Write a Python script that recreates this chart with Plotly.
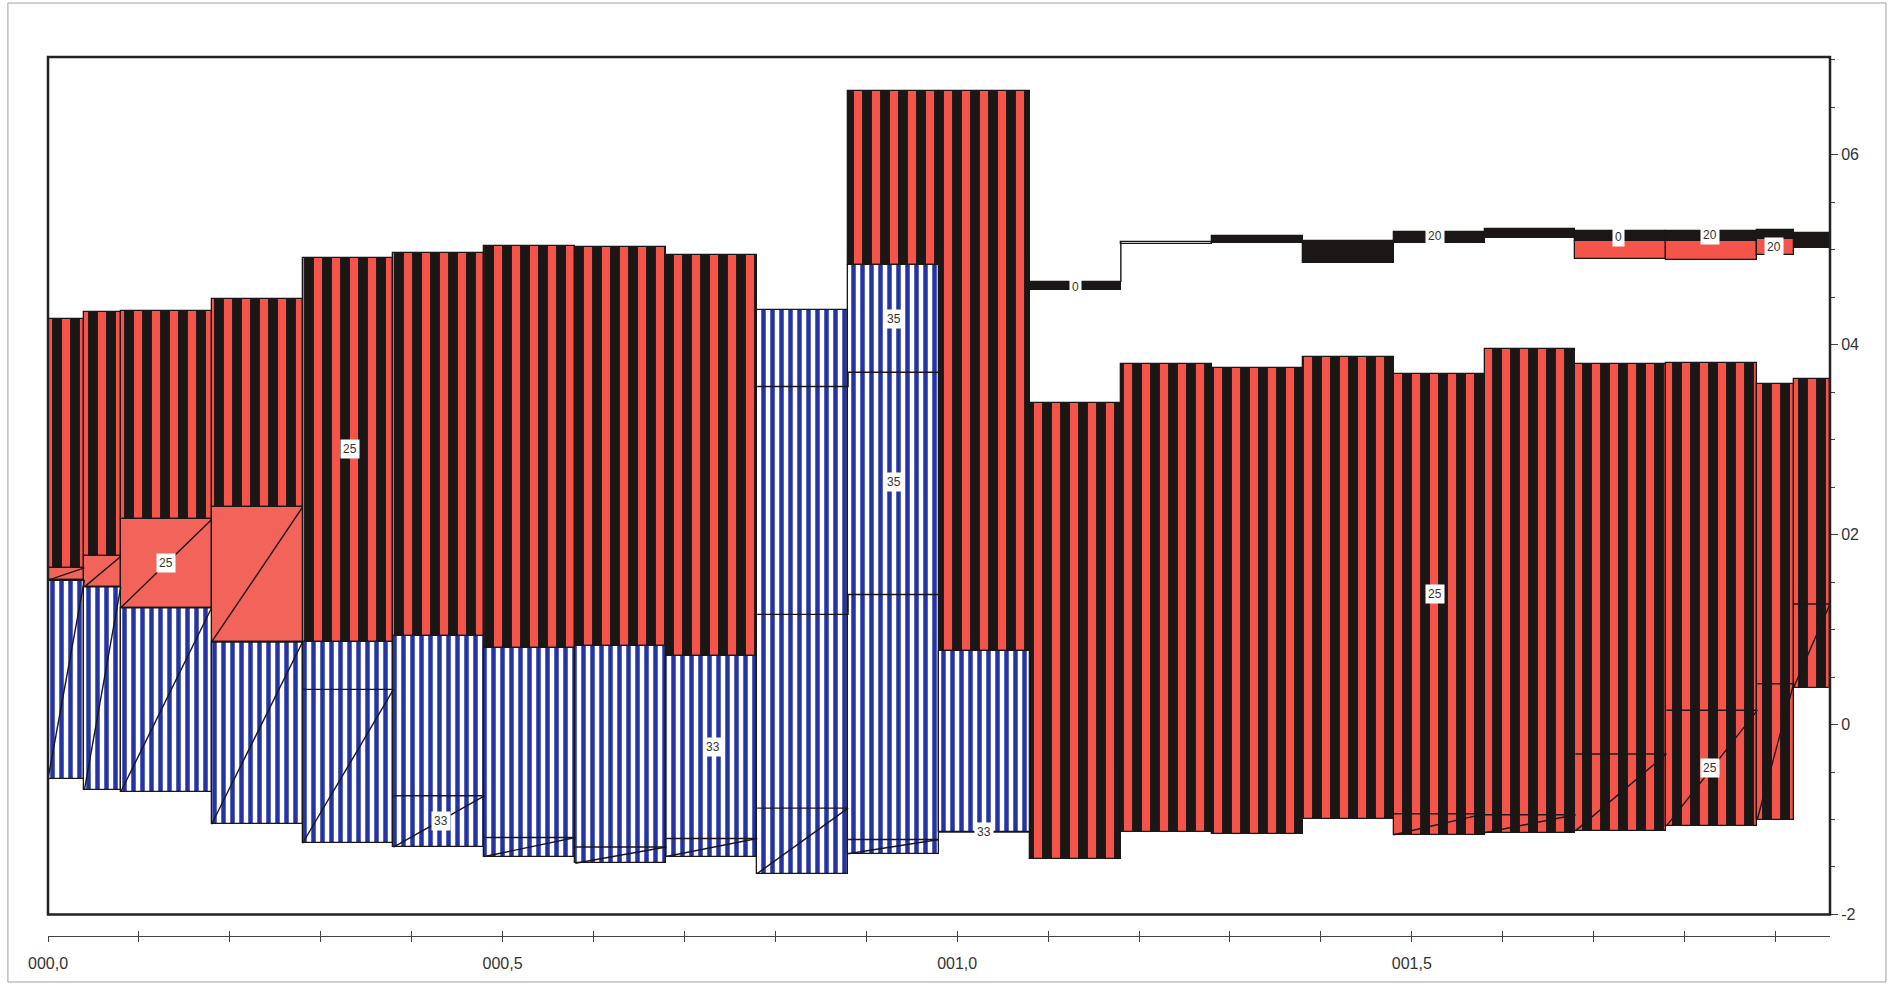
import plotly.graph_objects as go

# ---------------- data ----------------
EDGES = [0.00, 0.04, 0.08, 0.18, 0.28, 0.38, 0.48, 0.58, 0.68, 0.78, 0.88,
         0.98, 1.08, 1.18, 1.28, 1.38, 1.48, 1.58, 1.68, 1.78, 1.88, 1.92, 1.96]

# layer "25" (red / black striped)
RED_TOP = [4.27, 4.34, 4.36, 4.48, 4.91, 4.97, 5.04, 5.03, 4.95, None, 6.67,
           6.67, 3.39, 3.80, 3.75, 3.87, 3.69, 3.95, 3.80, 3.81, 3.59, 3.64]
RED_BOT = [1.65, 1.77, 2.16, 2.29, 0.87, 0.93, 0.81, 0.83, 0.72, None, 4.84,
           0.77, -1.42, -1.13, -1.15, -0.99, -1.16, -1.14, -1.12, -1.07, -1.00, 0.39]
RED_LINE = [None] * 16 + [-0.94, -0.95, -0.31, 0.15, 0.43, 1.27]

# layer "25" transition (solid red)
SOLID_BOT = [1.52, 1.45, 1.23, 0.87] + [None] * 18

# layers "33"/"35" (blue / white striped)
BLUE_TOP = [1.52, 1.45, 1.23, 0.87, 0.87, 0.93, 0.81, 0.83, 0.72, 4.37, 4.84,
            0.77] + [None] * 10
BLUE_BOT = [-0.57, -0.69, -0.71, -1.05, -1.25, -1.29, -1.39, -1.46, -1.39, -1.57,
            -1.36, -1.13] + [None] * 10
BLUE_LINE = [1.52, 1.45, 1.23, 0.87, 0.37, -0.75, -1.19, -1.29, -1.20, -0.88,
             -1.21, -1.13] + [None] * 10
BLUE_MID1 = [None] * 9 + [3.56, 3.71] + [None] * 11
BLUE_MID2 = [None] * 9 + [1.16, 1.37] + [None] * 11

# upper thin layer ("0" / "20")
UP_BLK_HI = [None] * 12 + [4.66, 5.08, 5.15, 5.09, 5.19, 5.22, 5.20, 5.20, 5.21, 5.18]
UP_BLK_LO = [None] * 12 + [4.58, 5.06, 5.07, 4.86, 5.07, 5.12, 5.09, 5.09, 5.11, 5.02]
UP_RED_HI = [None] * 18 + [5.09, 5.09, 5.11, None]
UP_RED_LO = [None] * 18 + [4.90, 4.89, 4.94, None]

# in-chart labels
LABEL_TEXT = ["25", "25", "33", "33", "35", "35", "33", "25", "25",
              "0", "20", "0", "20", "20"]
LABEL_X = [0.332, 0.130, 0.432, 0.731, 0.931, 0.931, 1.029, 1.526, 1.828,
           1.130, 1.525, 1.727, 1.828, 1.898]
LABEL_Y = [2.90, 1.70, -1.02, -0.235, 4.27, 2.55, -1.13, 1.38, -0.46,
           4.61, 5.15, 5.13, 5.16, 5.03]

# axes
X_TICKS = [round(0.1 * i, 1) for i in range(20)]
X_LABELS = {0.0: "000,0", 0.5: "000,5", 1.0: "001,0", 1.5: "001,5"}
Y_TICKS = [-2, 0, 2, 4, 6]
Y_LABELS = ["-2", "0", "02", "04", "06"]
Y_RANGE = [-2, 7.03]

# ---------------- styles ----------------
RED = "#F4544A"
RED_SOLID = "#F2635A"
BLACK = "#1b1717"
BLUE = "#2434A4"
OUTLINE = dict(color=BLACK, width=1.3)


def bar_trace(tops, bots, marker):
    xs, ws, bs, hs = [], [], [], []
    for i, (t, b) in enumerate(zip(tops, bots)):
        if t is None or b is None:
            continue
        x0, x1 = EDGES[i], EDGES[i + 1]
        xs.append((x0 + x1) / 2)
        ws.append(x1 - x0)
        bs.append(b)
        hs.append(t - b)
    return go.Bar(x=xs, y=hs, base=bs, width=ws, marker=marker,
                  showlegend=False, hoverinfo="skip")


def segments(starts, ends, with_horizontal=True):
    """diagonal from (x0, start) to (x1, end) and horizontal at end level"""
    xs, ys = [], []
    for i, (s, e) in enumerate(zip(starts, ends)):
        if s is None or e is None:
            continue
        x0, x1 = EDGES[i], EDGES[i + 1]
        xs += [x0, x1, None]
        ys += [s, e, None]
        if with_horizontal:
            xs += [x0, x1, None]
            ys += [e, e, None]
    return xs, ys


fig = go.Figure()

# red striped layer
fig.add_trace(bar_trace(RED_TOP, RED_BOT, dict(
    color=RED, line=OUTLINE,
    pattern=dict(shape="|", bgcolor=RED, fgcolor=BLACK, fgopacity=1,
                 size=18, solidity=0.55))))

# solid red transition layer
fig.add_trace(bar_trace(RED_BOT[:4] + [None] * 18, SOLID_BOT,
                        dict(color=RED_SOLID, line=OUTLINE)))

# blue striped layer
fig.add_trace(bar_trace(BLUE_TOP, BLUE_BOT, dict(
    color=BLUE, line=OUTLINE,
    pattern=dict(shape="|", bgcolor="white", fgcolor=BLUE, fgopacity=1,
                 size=9, solidity=0.5))))

# upper thin layer
blk_fill = []
for hi, lo in zip(UP_BLK_HI, UP_BLK_LO):
    if hi is not None:
        blk_fill.append("white" if hi - lo < 0.03 else BLACK)
fig.add_trace(bar_trace(UP_BLK_HI, UP_BLK_LO, dict(color=blk_fill, line=OUTLINE)))
fig.add_trace(bar_trace(UP_RED_HI, UP_RED_LO, dict(color=RED, line=OUTLINE)))

# internal boundary lines
lx, ly = [], []
a, b = segments(SOLID_BOT, RED_BOT[:4] + [None] * 18, with_horizontal=False)
lx += a; ly += b
a, b = segments(BLUE_BOT, BLUE_LINE)
lx += a; ly += b
a, b = segments(RED_BOT, RED_LINE)
lx += a; ly += b
for mid in (BLUE_MID1, BLUE_MID2):
    idx = [i for i, v in enumerate(mid) if v is not None]
    for k, i in enumerate(idx):
        lx += [EDGES[i], EDGES[i + 1]]
        ly += [mid[i], mid[i]]
        if k + 1 < len(idx):
            lx += [EDGES[i + 1]]
            ly += [mid[idx[k + 1]]]
    lx += [None]; ly += [None]
# step of the upper layer between the first two bins
lx += [EDGES[13], EDGES[13], None]
ly += [UP_BLK_HI[12], UP_BLK_HI[13], None]
fig.add_trace(go.Scatter(x=lx, y=ly, mode="lines", line=dict(color=BLACK, width=1.4),
                         showlegend=False, hoverinfo="skip", connectgaps=False))

# labels
for t, x, y in zip(LABEL_TEXT, LABEL_X, LABEL_Y):
    fig.add_annotation(x=x, y=y, text=t, showarrow=False, bgcolor="white",
                       borderpad=2, font=dict(size=12, color="#333",
                                              family="Liberation Sans, Arial"))

# plot frame and outer border
fig.add_shape(type="rect", xref="x domain", yref="y domain", x0=0, x1=1, y0=0, y1=1,
              line=dict(color="#222", width=2.5), layer="above")
fig.add_shape(type="rect", xref="paper", yref="paper", x0=-0.0225, x1=1.0314,
              y0=-0.0523, y1=1.0614, line=dict(color="#a0a0a0", width=1))

font = dict(family="Liberation Sans, Arial", size=16, color="#333")
fig.update_layout(
    width=1894, height=986,
    margin=dict(l=48, r=64, t=57, b=50),
    paper_bgcolor="white", plot_bgcolor="white",
    barmode="overlay", bargap=0,
    showlegend=False,
    xaxis=dict(range=[0, 1.96], anchor="free", position=0, showgrid=False,
               zeroline=False, showline=True, linecolor="#444", linewidth=1,
               ticks="outside", ticklen=5, tickcolor="#444",
               tickvals=X_TICKS, ticktext=[X_LABELS.get(v, "") for v in X_TICKS],
               tickfont=font, ticklabelstandoff=8, fixedrange=True),
    xaxis2=dict(range=[0, 1.96], overlaying="x", anchor="free", position=0,
                showgrid=False, zeroline=False, ticks="inside", ticklen=5,
                tickcolor="#444", tickvals=X_TICKS, showticklabels=False),
    yaxis=dict(range=Y_RANGE, domain=[0.0245, 1], side="right", showgrid=False,
               zeroline=False, showline=False, ticks="outside", ticklen=7,
               tickcolor="#444", tickvals=Y_TICKS, ticktext=Y_LABELS,
               tickfont=font,
               minor=dict(ticks="outside", ticklen=4, dtick=0.5, tickcolor="#444")),
)
fig.add_trace(go.Scatter(x=[0], y=[None], xaxis="x2", showlegend=False,
                         hoverinfo="skip"))

fig.write_html("out.html", config={"displayModeBar": False},
               post_script="document.body.style.margin='0';")
